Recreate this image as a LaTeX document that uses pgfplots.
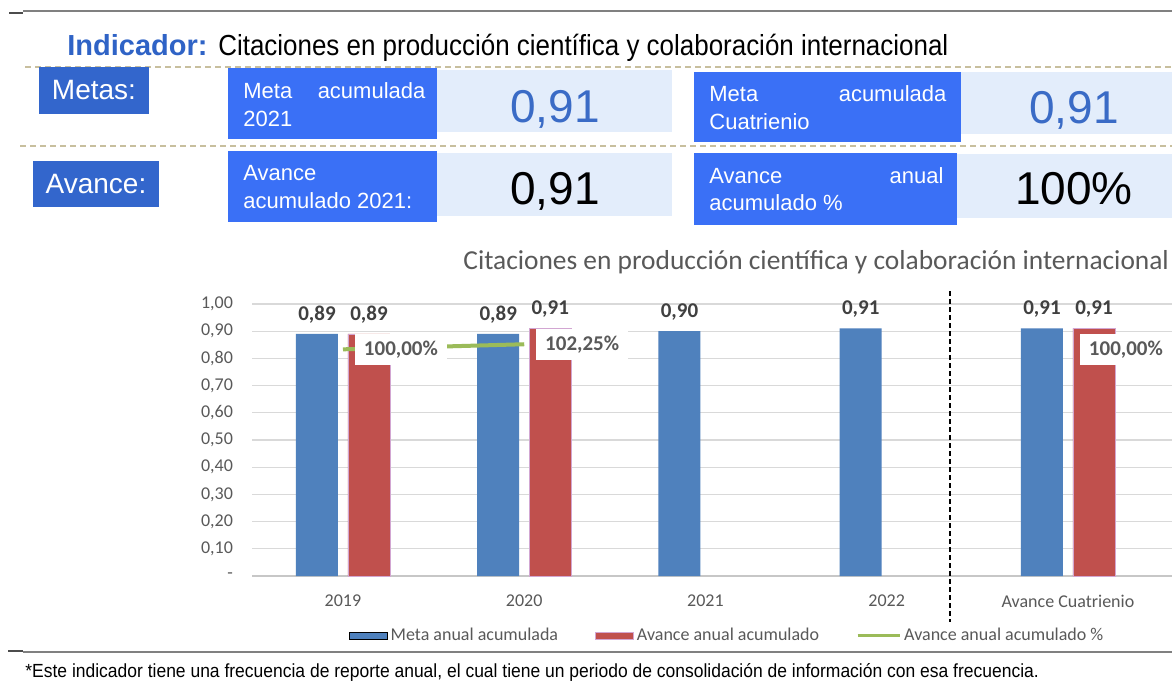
\documentclass[border=0pt]{standalone}
\usepackage{fontspec}
\setmainfont{Liberation Sans}
\newfontfamily\narrowfont[FakeStretch=0.895]{Liberation Sans}
\newfontfamily\notefont[FakeStretch=0.92]{Liberation Sans}
\newfontfamily\calfont{Carlito}
\usepackage{pgfplots}
\pgfplotsset{compat=1.18}

\definecolor{dblue}{HTML}{3366CC}
\definecolor{bblue}{HTML}{3A70F6}
\definecolor{lblue}{HTML}{E3EDFB}
\definecolor{nblue}{HTML}{3A6BC6}
\definecolor{iblue}{HTML}{2F63C6}
\definecolor{tanline}{HTML}{C8BF9E}
\definecolor{barblue}{HTML}{4F81BD}
\definecolor{barred}{HTML}{C0504D}
\definecolor{bargreen}{HTML}{9BBB59}
\definecolor{txtgray}{HTML}{595959}
\definecolor{lblgray}{HTML}{404040}
\definecolor{gridgray}{HTML}{D9D9D9}

\begin{document}
\begin{tikzpicture}
\path[use as bounding box] (0,0) rectangle (586pt,-340.5pt);
\clip (0,0) rectangle (586pt,-340.5pt);

% header panel, in pixel units
\begin{scope}[x=0.5pt,y=-0.5pt]
  \fill[white] (0,0) rectangle (1172,681);
  \draw[gray, line width=0.6pt] (23,11) -- (1172,11);
  \draw[black!70, line width=1pt] (9,12.5) -- (23,12.5);
  \node[anchor=base west, inner sep=0, font=\fontsize{14.5}{17}\selectfont] at (67,55)
    {{\color{iblue}\bfseries Indicador:} {\narrowfont Citaciones en producción científica y colaboración internacional}};

  \draw[tanline, line width=0.8pt, dash pattern=on 3pt off 2pt] (25,67) -- (1172,67);
  \draw[tanline, line width=0.8pt, dash pattern=on 3pt off 2pt] (20,146) -- (1172,146);

  % labels on the left
  \fill[dblue] (39,67) rectangle (149,114);
  \node[text=white, font=\fontsize{14}{16}\selectfont] at (94,90.5) {Metas:};
  \fill[dblue] (33,161) rectangle (159,207);
  \node[text=white, font=\fontsize{14}{16}\selectfont] at (96,184) {Avance:};

  % light value boxes
  \fill[lblue] (437,70) rectangle (672,132);
  \fill[lblue] (437,153) rectangle (672,216);
  \fill[lblue] (961,72) rectangle (1172,134);
  \fill[lblue] (957,154) rectangle (1172,218);

  % bright blue boxes
  \fill[bblue] (228,68) rectangle (437,139);
  \fill[bblue] (228,151) rectangle (437,222);
  \fill[bblue] (694,72) rectangle (961,142);
  \fill[bblue] (694,153) rectangle (957,225);

  \begin{scope}[every node/.style={anchor=base west, inner sep=0, text=white, font=\fontsize{11}{13}\selectfont}]
    \node at (243,98) {\hbox to 91pt{Meta\hfill acumulada}};
    \node at (243,126) {2021};
    \node at (243,180) {Avance};
    \node at (243,208) {acumulado 2021:};
    \node at (709,101) {\hbox to 118.5pt{Meta\hfill acumulada}};
    \node at (709,129) {Cuatrienio};
    \node at (709,183) {\hbox to 117pt{Avance\hfill anual}};
    \node at (709,210) {acumulado \%};
  \end{scope}

  \begin{scope}[every node/.style={anchor=base, inner sep=0, font=\fontsize{23}{26}\selectfont}]
    \node[text=nblue] at (555,122) {0,91};
    \node[text=nblue] at (1074,123) {0,91};
    \node[text=black] at (555,204) {0,91};
    \node[text=black] at (1074,204) {100\%};
  \end{scope}

  \node[anchor=base west, inner sep=0, text=txtgray, font=\calfont\fontsize{13.7}{16}\selectfont] at (463,269)
    {Citaciones en producción científica y colaboración internacional};
\end{scope}

% bars
\begin{axis}[
  at={(126pt,-288pt)}, anchor=south west,
  scale only axis, width=460pt, height=136pt,
  xmin=-0.502, xmax=4.574, ymin=0, ymax=1,
  clip=false,
  axis x line*=bottom, axis y line*=left,
  y axis line style={draw=none},
  x axis line style={draw=gridgray!80!gray, line width=0.7pt, -},
  ymajorgrids, grid style={draw=gridgray, line width=0.6pt},
  major tick length=0pt,
  ytick={0,0.1,0.2,0.3,0.4,0.5,0.6,0.7,0.8,0.9,1},
  yticklabels={-,{0,10},{0,20},{0,30},{0,40},{0,50},{0,60},{0,70},{0,80},{0,90},{1,00}},
  xtick={0,1,2,3,4},
  xticklabels={2019,2020,2021,2022,Avance Cuatrienio},
  tick label style={font=\calfont\fontsize{9}{10}\selectfont, text=txtgray},
  yticklabel style={xshift=-6pt},
  xticklabel style={yshift=-6pt},
  ybar=5pt, bar width=21pt,
  nodes near coords={\pgfmathprintnumber[assume math mode=true,use comma,fixed,fixed zerofill,precision=2]{\pgfplotspointmeta}},
  every node near coord/.append style={font=\calfont\bfseries\fontsize{10.5}{12}\selectfont, text=lblgray, yshift=2pt},
  legend image code/.code={\draw[#1] (0pt,-1.75pt) rectangle (19pt,1.75pt);},
  legend columns=3,
  legend style={at={(axis description cs:0.517,-0.22)}, anchor=center, draw=none, fill=none,
    font=\calfont\fontsize{9}{10}\selectfont, text=txtgray,
    nodes={inner xsep=1.5pt},
    /tikz/every even column/.append style={column sep=17pt}},
]
\addplot[fill=barblue, draw=none] coordinates {(0,0.89) (1,0.89) (2,0.90) (3,0.91) (4,0.91)};
\addplot[fill=barred, draw=violet!35, line width=0.4pt] coordinates {(0,0.89) (1,0.91) (4,0.91)};
\addlegendimage{legend image code/.code={\draw[bargreen, line width=1.5pt] (0pt,0pt) -- (21pt,0pt);}}
\legend{Meta anual acumulada, Avance anual acumulado, Avance anual acumulado \%}
\end{axis}

% percentage line on a hidden secondary axis
\begin{axis}[
  at={(126pt,-288pt)}, anchor=south west,
  scale only axis, width=460pt, height=136pt,
  xmin=-0.502, xmax=4.574, ymin=0, ymax=120,
  hide axis, clip=false,
  unbounded coords=jump,
]
\addplot[bargreen, line width=2pt, mark=none,
  nodes near coords={\pgfmathprintnumber[assume math mode=true,use comma,fixed,fixed zerofill,precision=2]{\pgfplotspointmeta}\%},
  every node near coord/.append style={anchor=west, xshift=5pt, fill=white, inner xsep=4.5pt, inner ysep=3.5pt,
    text=txtgray, font=\calfont\bfseries\fontsize{10.5}{12}\selectfont}]
  coordinates {(0,100) (1,102.25) (2,nan) (3,nan) (4,100)};
\end{axis}

\begin{scope}[x=0.5pt,y=-0.5pt]
  \draw[black, line width=0.7pt, dash pattern=on 2.5pt off 1.5pt] (950,291) -- (950,622);
  \draw[gray, line width=0.6pt] (23,652) -- (1172,652);
  \draw[black!70, line width=1pt] (8,651) -- (23,651);
  \node[anchor=base west, inner sep=0, font=\notefont\fontsize{9.5}{11}\selectfont] at (25,677)
    {*Este indicador tiene una frecuencia de reporte anual, el cual tiene un periodo de consolidación de información con esa frecuencia.};
\end{scope}
\end{tikzpicture}
\end{document}
